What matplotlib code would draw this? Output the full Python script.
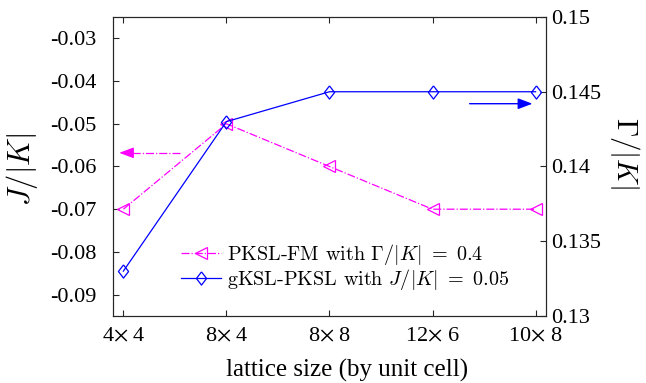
import matplotlib
matplotlib.use("Agg")
import matplotlib.pyplot as plt

# ---- data ----
lattice_labels = [r"4$\times$ 4", r"8$\times$ 4", r"8$\times$ 8", r"12$\times$ 6", r"10$\times$ 8"]
pksl_fm_J = [-0.07, -0.05, -0.06, -0.07, -0.07]          # left axis, J/|K|
gksl_pksl_G = [0.133, 0.143, 0.145, 0.145, 0.145]        # right axis, Gamma/|K|
left_ticks = [-0.09, -0.08, -0.07, -0.06, -0.05, -0.04, -0.03]
left_ticklabels = ["-0.09", "-0.08", "-0.07", "-0.06", "-0.05", "-0.04", "-0.03"]
right_ticks = [0.13, 0.135, 0.14, 0.145, 0.15]
right_ticklabels = ["0.13", "0.135", "0.14", "0.145", "0.15"]
# indicator arrows (start x, end x, y)
arrow_left = (0.55, -0.04, -0.0568)
arrow_right = (3.36, 3.97, 0.1442)

plt.rcParams['font.family'] = ['Liberation Serif', 'DejaVu Serif']
plt.rcParams['mathtext.fontset'] = 'stix'
plt.rcParams['font.size'] = 16

MAG = '#ff00ff'
BLU = '#0000ff'
axc = '#262626'
diamond = [(0, 1), (0.77, 0), (0, -1), (-0.77, 0), (0, 1)]

fig = plt.figure(figsize=(6.46, 3.83), dpi=100)
ax = fig.add_axes([0.175, 0.175, 0.67, 0.7806])
ax2 = ax.twinx()

x = list(range(len(lattice_labels)))
l1, = ax.plot(x, pksl_fm_J, color=MAG, ls='-.', lw=0.9, marker='<', ms=8,
              mfc='none', mew=0.9)
l2, = ax2.plot(x, gksl_pksl_G, color=BLU, ls='-', lw=0.9, marker=diamond, ms=9.5,
               mfc='none', mew=0.9)

ax.set_xlim(-0.1, 4.1)
ax.set_ylim(-0.095, -0.025)
ax2.set_ylim(0.13, 0.15)
ax.set_xticks(x)
ax.set_xticklabels(lattice_labels)
ax.set_yticks(left_ticks)
ax.set_yticklabels(left_ticklabels)
ax2.set_yticks(right_ticks)
ax2.set_yticklabels(right_ticklabels)

for a in (ax, ax2):
    for s in a.spines.values():
        s.set_color(axc)
        s.set_linewidth(0.8)
ax.tick_params(axis='both', direction='in', length=4, width=0.8, color=axc,
               labelcolor='black', top=True)
ax.tick_params(axis='x', pad=8)
ax.tick_params(axis='y', right=False, pad=12)
ax2.tick_params(axis='y', direction='in', length=4, width=0.8, color=axc,
                labelcolor='black', pad=4)

ax.set_xlabel("lattice size (by unit cell)", fontsize=18)
ax.xaxis.set_label_coords(0.54, -0.145)
mathfont = {'math_fontfamily': 'cm'}
ax.set_ylabel(r"$J/|K|$", fontsize=22, va='center', **mathfont)
ax.yaxis.set_label_coords(-0.21, 0.49)
ax2.set_ylabel(r"$\Gamma/|K|$", fontsize=21, rotation=270, va='center', **mathfont)
ax2.yaxis.set_label_coords(1.183, 0.545)

# arrows
hs = '-|>,head_length=0.8,head_width=0.3'
x0, x1, y = arrow_left
ax.plot([x0, x1 + 0.08], [y, y], color=MAG, ls='-.', lw=0.9)
ax.annotate('', xy=(x1, y), xytext=(x1 + 0.1, y),
            arrowprops=dict(arrowstyle=hs, color=MAG, lw=0.9,
                            mutation_scale=11, shrinkA=0, shrinkB=0))
x0, x1, y = arrow_right
ax2.annotate('', xy=(x1, y), xytext=(x0, y),
             arrowprops=dict(arrowstyle=hs, color=BLU, lw=1.0,
                             mutation_scale=11, shrinkA=0, shrinkB=0))

leg = ax2.legend([l1, l2], [r"PKSL-FM with $\Gamma/|K|\ =\ 0.4$",
                            r"gKSL-PKSL with $J/|K|\ =\ 0.05$"],
                 loc='lower left', bbox_to_anchor=(0.115, 0.02), frameon=False,
                 handlelength=2.0, handletextpad=0.3, labelspacing=0.0,
                 prop={'family': 'cmr10', 'size': 14.5})
for t in leg.get_texts():
    t.set_math_fontfamily('cm')

fig.savefig("out.png", dpi=100)
